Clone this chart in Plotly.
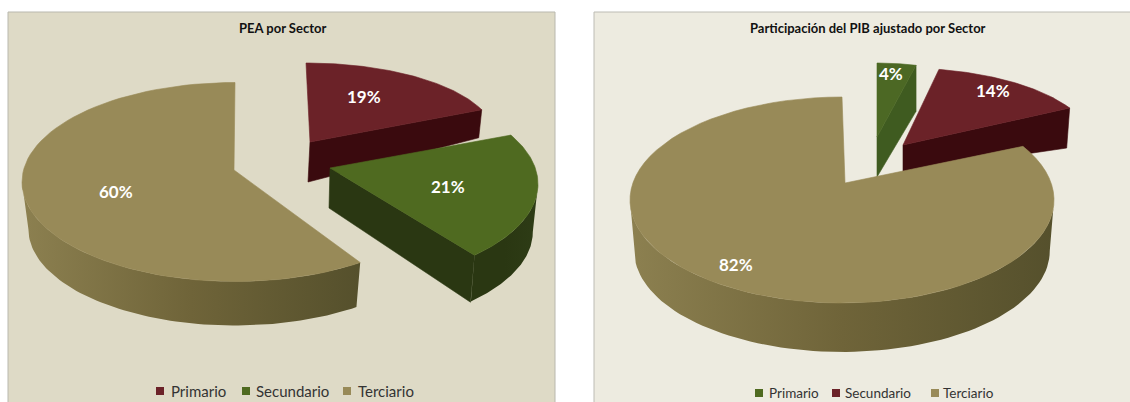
import numpy as np
import plotly.graph_objects as go

# ---- data ----
categories = ["Primario", "Secundario", "Terciario"]
pea_values = [19, 21, 60]
pib_values = [4, 14, 82]
pea_title = "PEA por Sector"
pib_title = "Participación del PIB ajustado por Sector"

# ---- styles ----
RED = dict(top="#6b2228", cut="#3a0a0e", wall=("#3a0a0e", "#3a0a0e"), key="#6b2228")
GREEN = dict(top="#4f6a20", cut="#2a3712", wall=("#2a3712", "#2a3712", "#2e3c16"), key="#4f6a20")
GREEN2 = dict(top="#4c6824", cut="#3f5b20", wall=("#3f5b20", "#3f5b20"), key="#4f6a20")
TAN = dict(top="#988a58", cut="#6a6038", wall=("#8c8050", "#6f6439", "#55502c"), key="#988a58")

fig = go.Figure()


def rim(g, a, b, n=80, bottom=False):
    t = np.radians(np.linspace(a, b, n))
    s = g.get("shrink", 1) if bottom else 1
    d = g.get("depth", 0) if bottom else 0
    return g["cx"] + g["rx"] * s * np.sin(t), g["cy"] + d - g["ry"] * s * np.cos(t)


def poly(x, y, color=None, grad=None):
    if grad:
        stops = [[i / (len(grad) - 1), c] for i, c in enumerate(grad)]
        kw = dict(fillgradient=dict(type="horizontal", colorscale=stops), line=dict(width=0))
    else:
        kw = dict(fillcolor=color, line=dict(width=0.6, color=color))
    fig.add_trace(go.Scatter(x=list(x) + [x[0]], y=list(y) + [y[0]], mode="lines",
                             fill="toself", hoverinfo="skip", showlegend=False, **kw))


def wedge(value_from, value_to, st, g):
    a = value_from * 3.6 + g.get("d0", 0)
    b = value_to * 3.6 + g.get("d1", 0)
    ax, ay = g["apex"]
    # outer wall: only the near half of the rim can be seen
    w0, w1 = max(a, 90), min(b, 270)
    if g.get("wall", True) and w1 > w0:
        tx, ty = rim(g, w0, w1)
        bx, by = rim(g, w0, w1, bottom=True)
        poly(np.r_[tx, bx[::-1]], np.r_[ty, by[::-1]], grad=st["wall"][::-1] if g.get("flip") else st["wall"])
    # front cut wall
    if g.get("cut"):
        ex, ey = rim(g, b, b, 1)
        poly([ax, ex[0], ex[0] - g.get("cut_dx", 0), ax - g.get("apex_dx", 0)],
             [ay, ey[0], ey[0] + g["cut"][1], ay + g["cut"][0]], color=st["cut"])
    # top face
    tx, ty = rim(g, a, b)
    poly(np.r_[ax, tx], np.r_[ay, ty], color=st["top"])


# left chart: back to front
p = pea_values
wedge(0, p[0], RED, dict(apex=(310, 142), cx=306, cy=137, rx=189, ry=74, wall=False,
                         cut=(40, 28), cut_dx=3, apex_dx=2))
wedge(p[0], p[0] + p[1], GREEN, dict(apex=(330, 168), cx=330, cy=184, rx=208, ry=99, d0=-8, d1=-8,
                                     depth=48, shrink=0.975, cut=(40, 47), cut_dx=4, apex_dx=1))
wedge(p[0] + p[1], 100, TAN, dict(apex=(234, 170), cx=235, cy=182, rx=213, ry=99.5, depth=47, shrink=0.97))

# right chart: back to front
q = pib_values
wedge(q[0], q[0] + q[1], RED, dict(apex=(903, 145), cx=903, cy=145, rx=190, ry=77, d0=-3.5, d1=-3.5, wall=False,
                                   cut=(27, 40), cut_dx=3))
wedge(0, q[0], GREEN2, dict(apex=(877, 137), cx=877, cy=137, rx=157, ry=74, wall=False, cut=(40, 46)))
wedge(q[0] + q[1], 100, TAN, dict(apex=(845, 183), cx=842, cy=200, rx=212, ry=103, d0=-6.2,
                                  depth=51, shrink=0.98))

# ---- text and furniture ----
def label(x, y, s, size, color="white", bold=True, anchor="center"):
    fig.add_annotation(x=x, y=y, text=f"<b>{s}</b>" if bold else s, showarrow=False, xanchor=anchor, yanchor="middle",
                       font=dict(family="Lato", size=size, color=color))


label(282, 28, pea_title, 13, "#111111")
label(868, 28, pib_title, 13, "#111111")
for pos, v in zip([(364, 96), (448, 186), (116, 191)], pea_values):
    label(pos[0], pos[1], f"{v}%", 17)
for pos, v in zip([(891, 73), (993, 90), (736, 264)], pib_values):
    label(pos[0], pos[1], f"{v}%", 17)

shapes = [
    dict(type="rect", x0=8, x1=555, y0=12, y1=410, fillcolor="#dedac6", line=dict(color="#b9b8ae", width=1), layer="below"),
    dict(type="rect", x0=594, x1=1140, y0=12, y1=410, fillcolor="#edebe0", line=dict(color="#bdbcb4", width=1), layer="below"),
]


def legend(xs, y, size, colors, box):
    for (mx, tx), name, c in zip(xs, categories, colors):
        shapes.append(dict(type="rect", x0=mx - box, x1=mx + box, y0=y - box, y1=y + box, fillcolor=c, line=dict(width=0)))
        label(tx, y, name, size, "#333333", bold=False, anchor="left")


legend([(160, 169), (246, 254), (347, 356)], 391, 15, [RED["key"], GREEN["key"], TAN["key"]], 4)
legend([(759, 767), (836, 843), (935, 941)], 393, 13.5, [GREEN["key"], RED["key"], TAN["key"]], 4)

fig.update_layout(
    width=1130, height=402, margin=dict(l=0, r=0, t=0, b=0), paper_bgcolor="white", plot_bgcolor="white",
    xaxis=dict(range=[0, 1130], visible=False, fixedrange=True),
    yaxis=dict(range=[402, 0], visible=False, fixedrange=True),
    shapes=shapes, showlegend=False,
)
fig.write_html("out.html", config=dict(displayModeBar=False),
               post_script="document.body.style.margin='0';document.documentElement.style.overflow='hidden';")
